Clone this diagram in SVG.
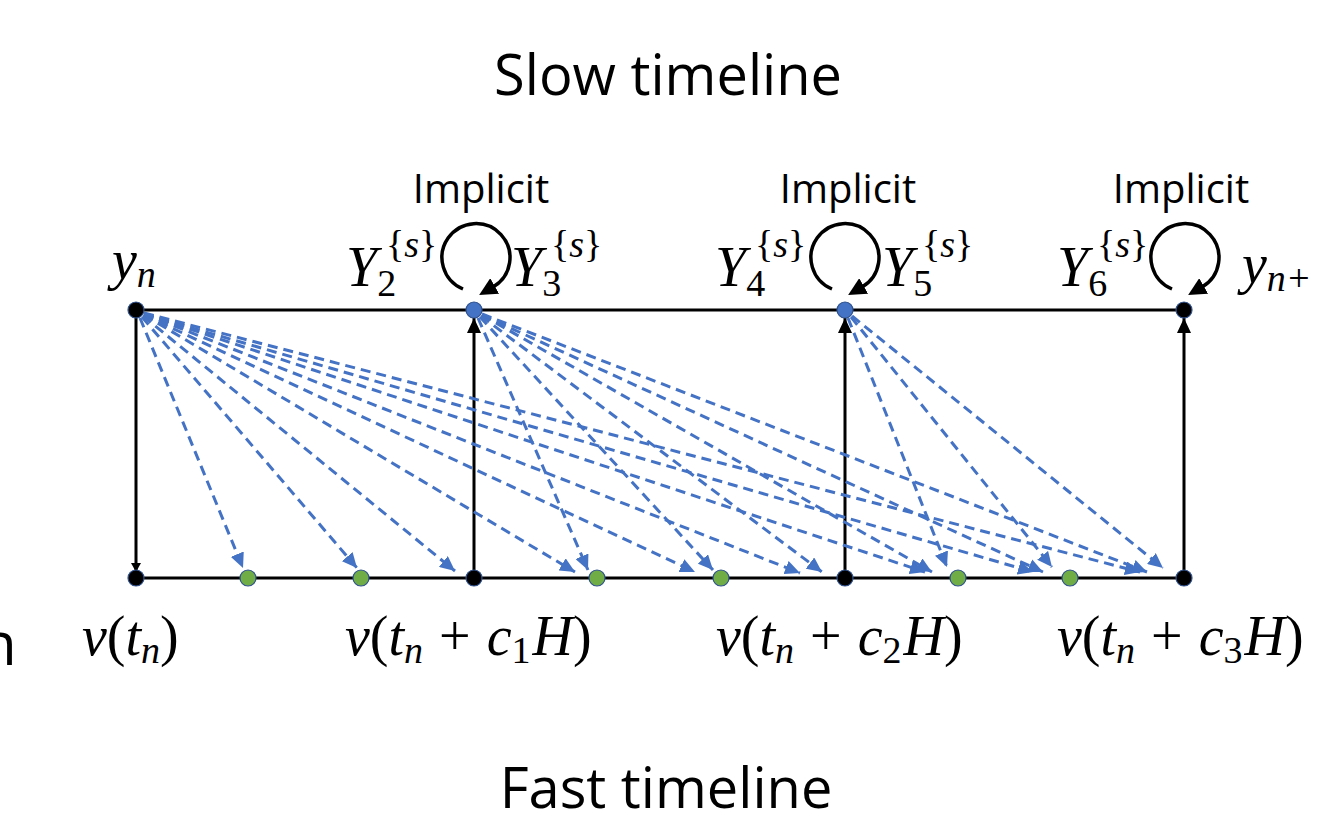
<svg xmlns="http://www.w3.org/2000/svg" width="1319" height="824" viewBox="0 0 1319 824">
<defs>
<style>
.title{font-family:"Open Sans","Liberation Sans",sans-serif;font-size:56px;fill:#000;text-anchor:middle}
.impl{font-family:"Open Sans","Liberation Sans",sans-serif;font-size:40px;fill:#000;text-anchor:middle}
.m{font-family:"Liberation Serif","DejaVu Serif",serif;font-size:56px;fill:#000}
.i{font-style:italic}
.sub{font-size:38px}
.dash{stroke:#4472C4;stroke-width:3;stroke-dasharray:10 6;fill:none;marker-end:url(#ab)}
.solid{stroke:#000;stroke-width:3;fill:none}
.loop{stroke:#000;stroke-width:3.5;fill:none;marker-end:url(#ak2)}
.nb{fill:#000;stroke:#2F528F;stroke-width:1.2}
.nu{fill:#4472C4;stroke:#2F528F;stroke-width:1.2}
.ng{fill:#70AD47;stroke:#2F528F;stroke-width:1.2}
</style>
<marker id="ab" markerUnits="userSpaceOnUse" markerWidth="16" markerHeight="14" refX="15" refY="7" orient="auto"><path d="M0,0 L15,7 L0,14 z" fill="#4472C4"/></marker>
<marker id="ak" markerUnits="userSpaceOnUse" markerWidth="16" markerHeight="14" refX="15" refY="7" orient="auto"><path d="M0,0 L15,7 L0,14 z" fill="#000"/></marker>
<marker id="aks" markerUnits="userSpaceOnUse" markerWidth="10" markerHeight="10" refX="9" refY="5" orient="auto"><path d="M0,0 L9,5 L0,10 z" fill="#000"/></marker>
<marker id="ak2" markerUnits="userSpaceOnUse" markerWidth="20" markerHeight="18" refX="2" refY="9" orient="auto"><path d="M0,0 L18,9 L0,18 z" fill="#000"/></marker>
</defs>
<rect width="1319" height="824" fill="#fff"/>

<text class="title" x="668" y="95">Slow timeline</text>
<text class="title" x="666" y="808">Fast timeline</text>
<text x="-20" y="665" font-family="'Open Sans','Liberation Sans',sans-serif" font-size="60">n</text>

<g id="timelines">
<line class="solid" x1="136" y1="310" x2="1184" y2="310"/>
<line class="solid" x1="136" y1="578" x2="1184" y2="578"/>
</g>

<g id="connectors">
<line class="solid" x1="136" y1="312" x2="136" y2="572" style="marker-end:url(#aks)"/>
<line class="solid" x1="474" y1="578" x2="474" y2="318" style="marker-end:url(#ak)"/>
<line class="solid" x1="845" y1="578" x2="845" y2="318" style="marker-end:url(#ak)"/>
<line class="solid" x1="1184" y1="578" x2="1184" y2="318" style="marker-end:url(#ak)"/>
<path class="dash" d="M140,318 L243,568"/>
<path class="dash" d="M142,317 L357,568"/>
<path class="dash" d="M143,316 L455,571"/>
<path class="dash" d="M144,315 L575,572"/>
<path class="dash" d="M144,315 L695,572"/>
<path class="dash" d="M144,314 L800,573"/>
<path class="dash" d="M144,314 L925,572"/>
<path class="dash" d="M144,314 L1033,572"/>
<path class="dash" d="M144,313 L1140,572"/>
<path class="dash" d="M478,318 L588,570"/>
<path class="dash" d="M480,317 L713,570"/>
<path class="dash" d="M481,316 L822,572"/>
<path class="dash" d="M482,315 L932,572"/>
<path class="dash" d="M482,315 L1043,572"/>
<path class="dash" d="M482,314 L1147,572"/>
<path class="dash" d="M848,318 L947,567"/>
<path class="dash" d="M851,317 L1052,567"/>
<path class="dash" d="M852,316 L1163,568"/>
<path class="loop" d="M463,289 A34,34 0 1 1 493,287"/>
<path class="loop" d="M832,289 A34,34 0 1 1 862,287"/>
<path class="loop" d="M1172,289 A34,34 0 1 1 1202,287"/>
</g>

<g id="node-yn"><circle class="nb" cx="136" cy="310" r="8"/><text class="m" x="112" y="279"><tspan class="i">y</tspan><tspan class="i sub" dy="8">n</tspan></text></g>
<g id="node-Y23"><circle class="nu" cx="474" cy="310" r="8"/>
<text class="impl" x="481" y="203">Implicit</text>
<text class="m" x="346" y="286"><tspan class="i">Y</tspan><tspan class="sub" dy="10">2</tspan></text>
<text class="m sub" x="386" y="257">{<tspan class="i">s</tspan>}</text>
<text class="m" x="511" y="286"><tspan class="i">Y</tspan><tspan class="sub" dy="10">3</tspan></text>
<text class="m sub" x="551" y="257">{<tspan class="i">s</tspan>}</text>
</g>
<g id="node-Y45"><circle class="nu" cx="845" cy="310" r="8"/>
<text class="impl" x="848" y="203">Implicit</text>
<text class="m" x="715" y="286"><tspan class="i">Y</tspan><tspan class="sub" dy="10">4</tspan></text>
<text class="m sub" x="755" y="257">{<tspan class="i">s</tspan>}</text>
<text class="m" x="882" y="286"><tspan class="i">Y</tspan><tspan class="sub" dy="10">5</tspan></text>
<text class="m sub" x="922" y="257">{<tspan class="i">s</tspan>}</text>
</g>
<g id="node-Y6"><circle class="nb" cx="1184" cy="310" r="8"/>
<text class="impl" x="1181" y="203">Implicit</text>
<text class="m" x="1057" y="286"><tspan class="i">Y</tspan><tspan class="sub" dy="10">6</tspan></text>
<text class="m sub" x="1097" y="257">{<tspan class="i">s</tspan>}</text>
<text class="m" x="1242" y="283"><tspan class="i">y</tspan><tspan class="i sub" dy="8">n+</tspan></text>
</g>

<g id="fast-nodes">
<circle class="nb" cx="136" cy="578" r="8"/>
<circle class="ng" cx="248" cy="578" r="8"/>
<circle class="ng" cx="361" cy="578" r="8"/>
<circle class="nb" cx="474" cy="578" r="8"/>
<circle class="ng" cx="597" cy="578" r="8"/>
<circle class="ng" cx="721" cy="578" r="8"/>
<circle class="nb" cx="845" cy="578" r="8"/>
<circle class="ng" cx="958" cy="578" r="8"/>
<circle class="ng" cx="1070" cy="578" r="8"/>
<circle class="nb" cx="1184" cy="578" r="8"/>
</g>

<g id="labels">
<text class="m" x="82" y="655"><tspan class="i">v</tspan>(<tspan class="i">t</tspan><tspan class="i sub" dy="8">n</tspan><tspan dy="-8">)</tspan></text>
<text class="m" x="345" y="655"><tspan class="i">v</tspan>(<tspan class="i">t</tspan><tspan class="i sub" dy="8">n</tspan><tspan dy="-8" dx="16">+</tspan><tspan class="i" dx="16">c</tspan><tspan class="sub" dy="8">1</tspan><tspan class="i" dy="-8" dx="2">H</tspan>)</text>
<text class="m" x="716" y="655"><tspan class="i">v</tspan>(<tspan class="i">t</tspan><tspan class="i sub" dy="8">n</tspan><tspan dy="-8" dx="16">+</tspan><tspan class="i" dx="16">c</tspan><tspan class="sub" dy="8">2</tspan><tspan class="i" dy="-8" dx="2">H</tspan>)</text>
<text class="m" x="1057" y="655"><tspan class="i">v</tspan>(<tspan class="i">t</tspan><tspan class="i sub" dy="8">n</tspan><tspan dy="-8" dx="16">+</tspan><tspan class="i" dx="16">c</tspan><tspan class="sub" dy="8">3</tspan><tspan class="i" dy="-8" dx="2">H</tspan>)</text>
</g>
</svg>
